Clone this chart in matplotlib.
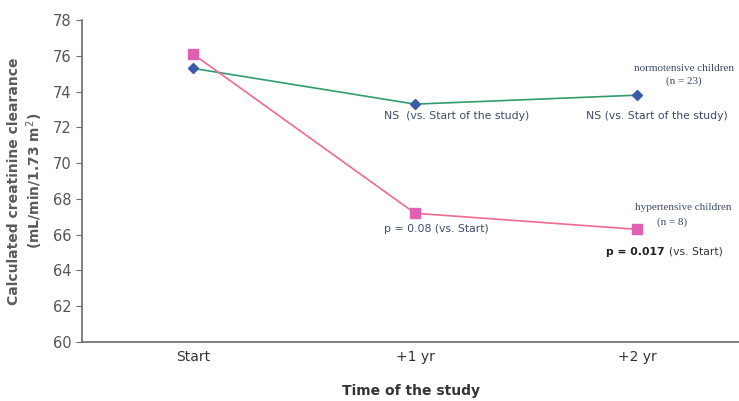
import matplotlib.pyplot as plt

# Data
time_labels = ["Start", "+1 yr", "+2 yr"]
normotensive = [75.3, 73.3, 73.8]
hypertensive = [76.1, 67.2, 66.3]
yticks = [60, 62, 64, 66, 68, 70, 72, 74, 76, 78]

x = list(range(len(time_labels)))

fig = plt.figure(figsize=(7.39, 4.01), dpi=100)
ax = fig.add_axes([0.111, 0.147, 0.889, 0.803])

ax.plot(x, normotensive, color="#2f9e6c", lw=1.2, zorder=2)
ax.plot(x, normotensive, ls="none", marker="D", ms=5.5, color="#3b5ba8", zorder=3)
ax.plot(x, hypertensive, color="#f06a8e", lw=1.2, zorder=2)
ax.plot(x, hypertensive, ls="none", marker="s", ms=7.5, color="#e060b4", zorder=3)

ax.set_xlim(-0.5, 2.46)
ax.set_ylim(60, 78)
ax.set_xticks(x)
ax.set_xticklabels(time_labels)
ax.set_yticks(yticks)

for s in ["top", "right"]:
    ax.spines[s].set_visible(False)
for s in ["left", "bottom"]:
    ax.spines[s].set_color("#6a6a6a")
    ax.spines[s].set_linewidth(1.2)

ax.tick_params(axis="y", colors="#6a6a6a", labelsize=10.5, length=4, labelcolor="#555555")
ax.tick_params(axis="x", length=0, labelsize=10, labelcolor="#333333", pad=6)

ax.set_ylabel("Calculated creatinine clearance\n(mL/min/1.73 m$^2$)",
              fontsize=10, fontweight="bold", color="#5a5a5a", labelpad=6)
ax.set_xlabel("Time of the study", fontsize=10, fontweight="bold",
              color="#333333", labelpad=14)

txt = "#3d4a68"
fs = 7.8
ax.text(0.86, 72.65, "NS  (vs. Start of the study)", fontsize=fs, color=txt, va="center")
ax.text(1.77, 72.65, "NS (vs. Start of the study)", fontsize=fs, color=txt, va="center")
ax.text(0.86, 66.33, "p = 0.08 (vs. Start)", fontsize=fs, color=txt, va="center")
ax.text(1.86, 65.05, "p = 0.017", fontsize=fs, fontweight="bold", color="#222222", va="center")
ax.text(2.145, 65.05, "(vs. Start)", fontsize=fs, color="#333333", va="center")

ax.text(2.21, 75.3, "normotensive children", fontsize=8, family="Liberation Serif",
        color=txt, ha="center", va="center", clip_on=False)
ax.text(2.21, 74.6, "(n = 23)", fontsize=8, family="Liberation Serif",
        color=txt, ha="center", va="center", clip_on=False)
ax.text(2.21, 67.5, "hypertensive children", fontsize=8, family="Liberation Serif",
        color=txt, ha="center", va="center", clip_on=False)
ax.text(2.16, 66.7, "(n = 8)", fontsize=8, family="Liberation Serif",
        color=txt, ha="center", va="center", clip_on=False)

fig.savefig("out.png", dpi=100)
